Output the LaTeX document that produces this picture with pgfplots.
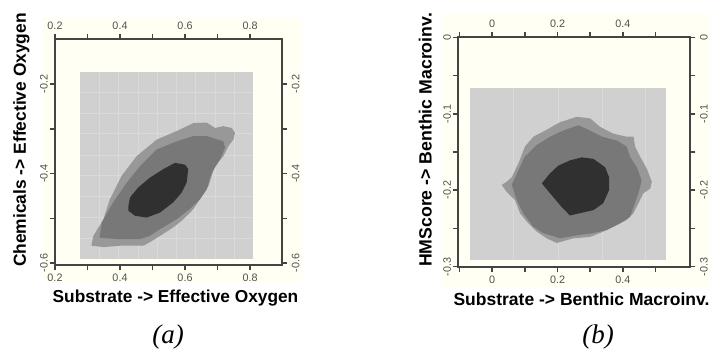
\documentclass[border=0pt]{standalone}
\usepackage{pgfplots}
\pgfplotsset{compat=1.18}
\usepackage{fontspec}
\setmainfont{Liberation Sans}
\newfontfamily\capfont{Liberation Serif}
\definecolor{cream}{RGB}{255,255,243}
\definecolor{rectgray}{RGB}{208,208,208}
\definecolor{gridc}{RGB}{218,218,218}
\definecolor{cA}{RGB}{152,152,152}
\definecolor{cB}{RGB}{120,120,120}
\definecolor{cC}{RGB}{48,48,48}
\definecolor{axcol}{RGB}{68,68,68}
\definecolor{tickcol}{RGB}{80,80,80}
\pgfplotsset{
  panel/.style={
    scale only axis, anchor=south west,
    axis line style={draw=axcol, line width=1.9pt},
    tick style={draw=axcol, line width=1.5pt},
    major tick length=5.5pt, minor tick length=5.5pt,
    tick align=outside, tick pos=both,
    xticklabel style={font=\fontsize{10.8}{11}\selectfont, text=tickcol, inner sep=0pt},
    yticklabel style={font=\fontsize{10.8}{11}\selectfont, text=tickcol, inner sep=0pt, rotate=90},
    clip=true,
  },
  lowlab/.style={
    xticklabel style={anchor=north}, yticklabel style={anchor=south},
    xticklabel shift=3.5pt, yticklabel shift=1.5pt,
  },
  highlab/.style={
    xticklabel pos=right, yticklabel pos=right,
    xticklabel style={anchor=south}, yticklabel style={anchor=north},
    xticklabel shift=4pt, yticklabel shift=4.5pt,
  },
  pa/.style={panel, at={(55pt,86pt)}, width=226.7pt, height=225.7pt,
    xmin=0.2, xmax=0.8975, ymin=-0.604, ymax=-0.1,
    xtick={0.2,0.4,0.6,0.8}, xticklabels={0.2,0.4,0.6,0.8},
    minor xtick={0.3,0.5,0.7},
    ytick={-0.6,-0.4,-0.2}, yticklabels={-0.6,-0.4,-0.2},
    minor ytick={-0.5,-0.3}},
  pb/.style={panel, at={(458.3pt,84.3pt)}, width=231.7pt, height=229.4pt,
    xmin=-0.104, xmax=0.606, ymin=-0.3, ymax=0,
    xtick={0,0.2,0.4}, xticklabels={0,0.2,0.4},
    minor xtick={-0.1,0.1,0.3,0.5},
    ytick={-0.3,-0.2,-0.1,0}, yticklabels={-0.3,-0.2,-0.1,0},
    minor ytick={-0.25,-0.15,-0.05}},
}
\begin{document}
\begin{tikzpicture}[x=1pt,y=1pt]
\path[use as bounding box] (0,0) rectangle (710,351);
\fill[cream] (43,68) rectangle (302,333);
\fill[cream] (441.7,64) rectangle (710,338);

% ---------- panel (a) ----------
\begin{axis}[pa, lowlab]
\addplot[fill=rectgray, draw=none, mark=none] coordinates {(0.277,-0.590) (0.810,-0.590) (0.810,-0.172) (0.277,-0.172)} -- cycle;
\foreach \gx in {0.336,0.395,0.455,0.514,0.573,0.632,0.692,0.751}{
  \edef\tmp{\noexpand\addplot[draw=gridc, line width=0.6pt, mark=none] coordinates {(\gx,-0.590) (\gx,-0.172)};}\tmp
}
\foreach \gy in {-0.544,-0.497,-0.451,-0.404,-0.358,-0.311,-0.265,-0.218}{
  \edef\tmp{\noexpand\addplot[draw=gridc, line width=0.6pt, mark=none] coordinates {(0.277,\gy) (0.810,\gy)};}\tmp
}
\addplot[fill=cA, draw=none, mark=none] coordinates {
(0.313,-0.557) (0.318,-0.539) (0.349,-0.502) (0.369,-0.457) (0.405,-0.405) (0.451,-0.361) (0.513,-0.324) (0.574,-0.305) (0.626,-0.287) (0.667,-0.286) (0.692,-0.298) (0.718,-0.294) (0.744,-0.298) (0.754,-0.309) (0.749,-0.324) (0.733,-0.339) (0.718,-0.361) (0.692,-0.383) (0.672,-0.428) (0.646,-0.457) (0.626,-0.479) (0.595,-0.502) (0.564,-0.520) (0.523,-0.539) (0.492,-0.553) (0.472,-0.561) (0.441,-0.561) (0.400,-0.561) (0.349,-0.564) (0.313,-0.561)} -- cycle;
\addplot[fill=cB, draw=none, mark=none] coordinates {
(0.338,-0.539) (0.344,-0.509) (0.379,-0.464) (0.421,-0.420) (0.462,-0.383) (0.513,-0.346) (0.574,-0.328) (0.626,-0.316) (0.667,-0.316) (0.718,-0.328) (0.723,-0.342) (0.708,-0.368) (0.682,-0.398) (0.667,-0.435) (0.646,-0.457) (0.615,-0.479) (0.574,-0.502) (0.523,-0.524) (0.492,-0.539) (0.462,-0.546) (0.390,-0.546) (0.338,-0.543)} -- cycle;
\addplot[fill=cC, draw=none, mark=none] coordinates {
(0.426,-0.472) (0.431,-0.453) (0.456,-0.431) (0.492,-0.409) (0.533,-0.390) (0.569,-0.376) (0.600,-0.380) (0.610,-0.390) (0.605,-0.420) (0.590,-0.442) (0.564,-0.464) (0.523,-0.487) (0.482,-0.498) (0.446,-0.494) (0.426,-0.483)} -- cycle;
\end{axis}
\begin{axis}[pa, highlab]
\end{axis}

% ---------- panel (b) ----------
\begin{axis}[pb, lowlab]
\addplot[fill=rectgray, draw=none, mark=none] coordinates {(-0.068,-0.291) (0.533,-0.291) (0.533,-0.066) (-0.068,-0.066)} -- cycle;
\foreach \gx in {0.064,0.202,0.336,0.469}{
  \edef\tmp{\noexpand\addplot[draw=gridc, line width=0.6pt, mark=none] coordinates {(\gx,-0.291) (\gx,-0.066)};}\tmp
}
\addplot[fill=cA, draw=none, mark=none] coordinates {
(0.029,-0.193) (0.044,-0.189) (0.060,-0.183) (0.080,-0.165) (0.100,-0.143) (0.126,-0.130) (0.162,-0.122) (0.208,-0.111) (0.259,-0.104) (0.300,-0.106) (0.330,-0.117) (0.371,-0.126) (0.412,-0.130) (0.433,-0.130) (0.438,-0.143) (0.453,-0.156) (0.474,-0.172) (0.489,-0.189) (0.484,-0.198) (0.463,-0.204) (0.448,-0.217) (0.433,-0.230) (0.412,-0.239) (0.371,-0.248) (0.330,-0.256) (0.300,-0.261) (0.248,-0.263) (0.198,-0.269) (0.167,-0.263) (0.136,-0.254) (0.106,-0.241) (0.085,-0.230) (0.070,-0.213) (0.044,-0.202)} -- cycle;
\addplot[fill=cB, draw=none, mark=none] coordinates {
(0.060,-0.193) (0.080,-0.174) (0.100,-0.156) (0.136,-0.141) (0.177,-0.130) (0.218,-0.122) (0.264,-0.115) (0.300,-0.122) (0.336,-0.130) (0.382,-0.135) (0.412,-0.143) (0.422,-0.156) (0.443,-0.170) (0.458,-0.187) (0.448,-0.204) (0.433,-0.222) (0.422,-0.235) (0.392,-0.243) (0.351,-0.252) (0.310,-0.256) (0.259,-0.259) (0.208,-0.263) (0.156,-0.256) (0.126,-0.248) (0.095,-0.230) (0.075,-0.213)} -- cycle;
\addplot[fill=cC, draw=none, mark=none] coordinates {
(0.152,-0.191) (0.177,-0.178) (0.202,-0.168) (0.238,-0.161) (0.274,-0.157) (0.310,-0.159) (0.346,-0.170) (0.358,-0.183) (0.358,-0.200) (0.340,-0.217) (0.310,-0.226) (0.269,-0.230) (0.238,-0.233) (0.213,-0.222) (0.187,-0.209)} -- cycle;
\end{axis}
\begin{axis}[pb, highlab]
\end{axis}

% ---------- titles ----------
\node[anchor=base, inner sep=0pt, font=\bfseries\fontsize{17.3}{19}\selectfont] at (175.5,48.3) {Substrate -> Effective Oxygen};
\node[anchor=base, inner sep=0pt, rotate=90, font=\bfseries\fontsize{17.4}{19}\selectfont] at (25.9,211) {Chemicals -> Effective Oxygen};
\node[anchor=base, inner sep=0pt, font=\bfseries\fontsize{17.5}{19}\selectfont] at (581.5,45.5) {Substrate -> Benthic Macroinv.};
\node[anchor=base, inner sep=0pt, rotate=90, font=\bfseries\fontsize{17.7}{19}\selectfont] at (431.5,211) {HMScore -> Benthic Macroinv.};
\node[anchor=base, inner sep=0pt, font=\capfont\itshape\fontsize{27}{28}\selectfont] at (168,8) {(a)};
\node[anchor=base, inner sep=0pt, font=\capfont\itshape\fontsize{27}{28}\selectfont] at (598,8) {(b)};
\end{tikzpicture}
\end{document}
